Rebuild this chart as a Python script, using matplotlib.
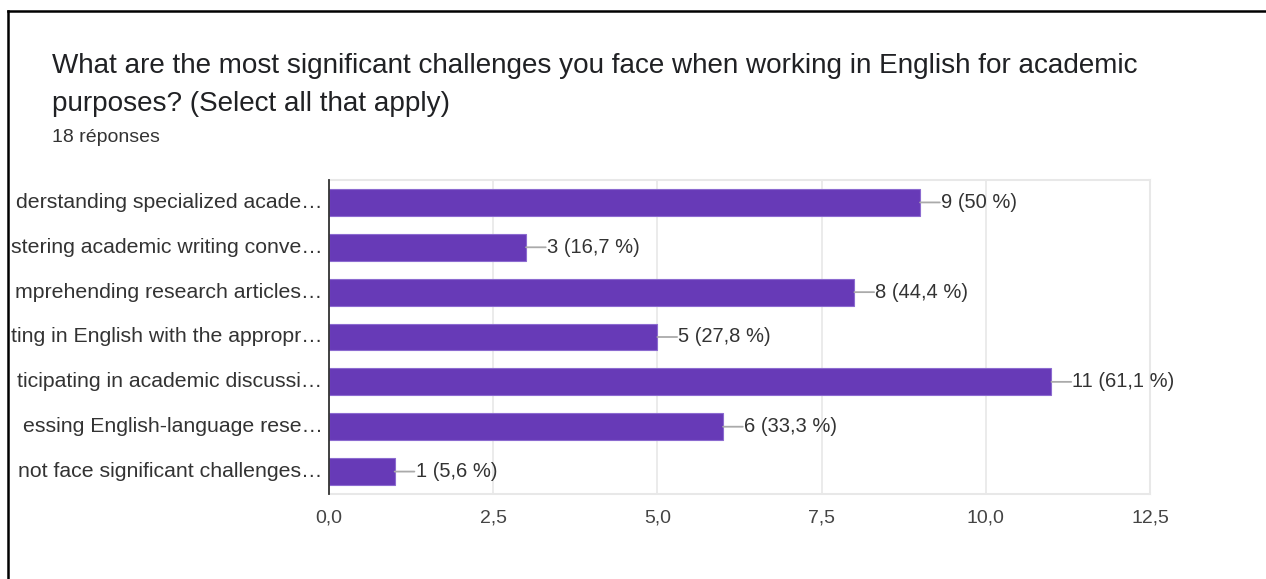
import matplotlib
matplotlib.use("Agg")
import matplotlib.pyplot as plt
from matplotlib.lines import Line2D

# category labels as they are visible in the screenshot (cut off at the left)
categories = [
    "derstanding specialized acade\u2026",
    "stering academic writing conve\u2026",
    "mprehending research articles\u2026",
    "ting in English with the appropr\u2026",
    "ticipating in academic discussi\u2026",
    "essing English-language rese\u2026",
    "not face significant challenges\u2026",
]
counts = [9, 3, 8, 5, 11, 6, 1]
percents = ["50", "16,7", "44,4", "27,8", "61,1", "33,3", "5,6"]
xticks = [0, 2.5, 5, 7.5, 10, 12.5]
xtick_labels = ["0,0", "2,5", "5,0", "7,5", "10,0", "12,5"]
title_lines = ["What are the most significant challenges you face when working in English for academic",
               "purposes? (Select all that apply)"]
subtitle = "18 r\u00e9ponses"

plt.rcParams['font.family'] = ['Liberation Sans', 'DejaVu Sans']

W, H = 1266, 579
fig = plt.figure(figsize=(W / 100, H / 100), dpi=100)
fig.patch.set_facecolor("white")

ax = fig.add_axes([329 / W, 1 - 494 / H, (1150 - 329) / W, (494 - 180) / H])
y = list(range(len(categories)))
ax.barh(y, counts, height=0.6, color="#673ab7", edgecolor="#8c6bd0", linewidth=0.8, zorder=3)
ax.set_ylim(len(categories) - 0.5, -0.5)
ax.set_xlim(0, 12.5)
ax.set_xticks(xticks)
ax.set_xticklabels(xtick_labels, fontsize=14, color="#444444")
ax.tick_params(axis="x", length=0, pad=11)
ax.tick_params(axis="y", length=0)
ax.set_yticks([])
ax.grid(axis="x", color="#e8e8e8", linewidth=1.2, zorder=0)
for s in ["top", "right", "bottom"]:
    ax.spines[s].set_color("#e8e8e8")
    ax.spines[s].set_linewidth(1.5)
ax.spines["left"].set_color("#333333")
ax.spines["left"].set_linewidth(1.3)
ax.spines["left"].set_zorder(4)

for i, (c, n, p) in enumerate(zip(categories, counts, percents)):
    ax.text(-0.1, i, c, ha="right", va="center", fontsize=15.3, color="#333333")
    ax.annotate("", xy=(n + 0.3, i), xytext=(n, i),
                arrowprops=dict(arrowstyle="-", color="#aaaaaa", lw=1.3, shrinkA=0, shrinkB=0))
    ax.text(n + 0.32, i, f"{n} ({p} %)", ha="left", va="center", fontsize=14.5, color="#333333")

fig.text(52 / W, 1 - 66 / H, title_lines[0], ha="left", va="center", fontsize=20.1, color="#202124")
fig.text(52 / W, 1 - 104 / H, title_lines[1], ha="left", va="center", fontsize=20.1, color="#202124")
fig.text(52 / W, 1 - 137 / H, subtitle, ha="left", va="center", fontsize=14, color="#333333")

# black frame
fig.add_artist(Line2D([8 / W, 8 / W], [0, 1 - 11 / H], transform=fig.transFigure,
                      color="black", linewidth=1.8))
fig.add_artist(Line2D([8 / W, 1], [1 - 11 / H, 1 - 11 / H], transform=fig.transFigure,
                      color="black", linewidth=1.8))

fig.savefig("out.png", dpi=100, facecolor="white")
